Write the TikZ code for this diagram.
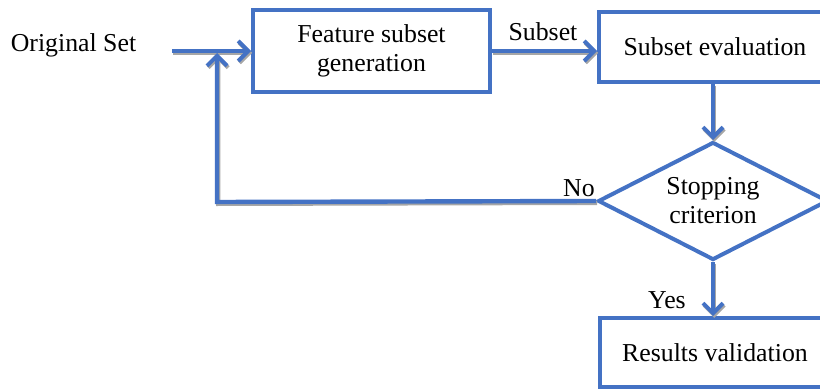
\documentclass[tikz,border=0pt]{standalone}
\usepackage{fontspec}
\setmainfont{Liberation Serif}
\usetikzlibrary{arrows.meta,shapes.geometric}
\definecolor{flowblue}{RGB}{68,114,196}
\begin{document}
\begin{tikzpicture}[x=0.5pt,y=-0.5pt,
  every node/.style={font=\fontsize{12.9}{14.5}\selectfont, text=black},
  blockbox/.style={draw=flowblue, line width=2pt, rectangle, inner sep=0pt, align=center},
  decision/.style={draw=flowblue, line width=2pt, diamond, aspect=2, inner sep=0pt, align=center},
  conn/.style={draw=flowblue, line width=2.2pt,
    preaction={draw=black!35, line width=2.2pt, transform canvas={shift={(0.6pt,-0.9pt)}}}},
  arr/.style={conn, -{Straight Barb[length=5pt,width=10pt,line width=2pt]}},
  lbl/.style={inner sep=0pt}
]
\useasboundingbox (0,0) rectangle (820,390);
\clip (0,0) rectangle (820,390);
\node[lbl] (orig) at (73.5,45) {Original Set};
\node[blockbox, minimum width=118.5pt, minimum height=41pt] (gen) at (371.5,51) {Feature subset\\generation};
\node[blockbox, minimum width=116pt, minimum height=35pt] (eval) at (715,47) {Subset evaluation};
\node[decision, minimum width=115pt, minimum height=59pt] (stop) at (713,201) {Stopping\\criterion};
\node[blockbox, minimum width=115.5pt, minimum height=34.5pt] (valid) at (715,352.5) {Results validation};
\coordinate (start) at (172,51);
\coordinate (join) at (217,51);
\coordinate (corner) at (217,202);
\node[lbl] (sublbl) at (543,32) {Subset};
\node[lbl] (nolbl) at (579,188) {No};
\node[lbl] (yeslbl) at (667,300) {Yes};
\draw[arr] (start) -- (gen.west);
\draw[arr] (gen.east) -- (gen.east -| eval.west);
\draw[arr] (eval.south -| stop.north) -- (stop.north);
\draw[arr] (stop.south) -- (stop.south |- valid.north);
\draw[arr, shorten >=1pt] (stop.west) -- (corner) -- (join);
\end{tikzpicture}
\end{document}
